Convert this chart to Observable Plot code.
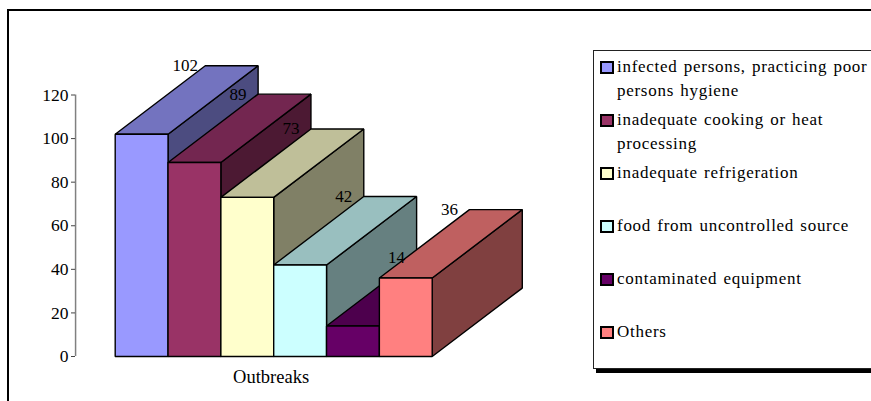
<!DOCTYPE html>
<html>
<head>
<meta charset="utf-8">
<script src="https://cdn.jsdelivr.net/npm/d3@7"></script>
<script src="https://cdn.jsdelivr.net/npm/@observablehq/plot@0.6"></script>
<style>
  html, body { margin: 0; padding: 0; background: #fff; }
  #page { position: relative; width: 871px; height: 401px; overflow: hidden; font-family: "Liberation Serif", serif; color: #000; }
  #page svg { position: absolute; left: 0; top: 0; background: transparent; }
  #frame { position: absolute; left: 7px; top: 9px; width: 900px; height: 500px; border: 2px solid #000; box-sizing: border-box; }
  #legend { position: absolute; left: 593px; top: 50px; width: 400px; height: 319px; box-sizing: border-box; border: 1px solid #222; background: #fff; box-shadow: 3px 4px 0 #000; }
  .item { position: absolute; left: 23px; font-size: 17px; line-height: 24px; white-space: nowrap; letter-spacing: 0.72px; word-spacing: 1.3px; }
  .swatch { position: absolute; left: 6.5px; width: 12px; height: 11px; box-sizing: border-box; border: 1px solid #000; outline: 0.5px solid #000; }
</style>
</head>
<body>
<div id="page">
  <div id="frame"></div>
  <div id="legend"></div>
</div>
<script>
// Food-borne outbreaks by contributing factor.
const categories = [
  "infected persons, practicing poor persons hygiene",
  "inadequate cooking or heat processing",
  "inadequate refrigeration",
  "food from uncontrolled source",
  "contaminated equipment",
  "Others"
];
const outbreaks = [102, 89, 73, 42, 14, 36];
const frontColors = ["#9999ff", "#993366", "#ffffcc", "#ccffff", "#660066", "#ff8080"];
const topColors = ["#7373bf", "#732650", "#bfbf99", "#99bfbf", "#4d004d", "#bf6060"];
const sideColors = ["#4c4c80", "#4c1933", "#808066", "#668080", "#330033", "#804040"];
const yTicks = [0, 20, 40, 60, 80, 100, 120];
const seriesName = "Outbreaks";
const legendLines = [
  ["infected persons, practicing poor", "persons hygiene"],
  ["inadequate cooking or heat", "processing"],
  ["inadequate refrigeration"],
  ["food from uncontrolled source"],
  ["contaminated equipment"],
  ["Others"]
];
const legendRowCenters = [67, 120, 173, 226, 279, 332];

// Oblique projection: the box depth shifts points right (in bar widths) and up (in value units).
const depthX = 1.705;
const depthY = 31.4;

const faces = [];
outbreaks.forEach((v, i) => {
  const add = (name, fill, pts) => pts.forEach(([x, y]) => faces.push({face: `${i}-${name}`, fill, x, y}));
  add("side", sideColors[i], [[i + 1, 0], [i + 1 + depthX, depthY], [i + 1 + depthX, v + depthY], [i + 1, v]]);
  add("top", topColors[i], [[i, v], [i + depthX, v + depthY], [i + 1 + depthX, v + depthY], [i + 1, v]]);
  add("front", frontColors[i], [[i, 0], [i, v], [i + 1, v], [i + 1, 0]]);
});

const labels = outbreaks.map((v, i) => ({v, x: i + depthX, y: v + depthY}));

const chart = Plot.plot({
  width: 871,
  height: 401,
  marginLeft: 75,
  marginTop: 0,
  marginBottom: 0,
  marginRight: 0,
  style: {fontFamily: "'Liberation Serif', serif", fontSize: "16px", color: "#000", background: "transparent"},
  x: {domain: [0, 6], range: [114.7, 431.7], axis: null},
  y: {domain: [0, 120], range: [356, 94.5], axis: null},
  color: {type: "identity"},
  marks: [
    Plot.ruleX([-0.75], {y1: 0, y2: 120, stroke: "#808080", strokeWidth: 1.5}),
    Plot.axisY({ticks: yTicks, anchor: "left", label: null, tickSize: 4, tickPadding: 3, fontSize: 17.5, stroke: "#444"}),
    Plot.line(faces, {
      x: "x", y: "y", z: "face", fill: "fill",
      stroke: "#000", strokeWidth: 1.4, curve: "linear-closed", strokeLinejoin: "miter"
    }),
    Plot.text(labels, {x: "x", y: "y", text: "v", dx: -20, fontSize: 17, fill: "#000", stroke: null}),
    Plot.text([seriesName], {x: () => 2.95, y: () => 0, text: d => d, dy: 21, fontSize: 18.5, fill: "#000"})
  ]
});
document.getElementById("page").insertBefore(chart, document.getElementById("legend"));

// Legend panel: one swatch per category, label wrapped over up to two lines.
const legend = document.getElementById("legend");
const legendTop = 51;
categories.forEach((name, i) => {
  const center = legendRowCenters[i] - legendTop;
  const item = document.createElement("div");
  item.className = "item";
  item.style.top = center - 12 + "px";
  item.innerHTML = legendLines[i].join("<br>");
  legend.appendChild(item);
  const swatch = document.createElement("div");
  swatch.className = "swatch";
  swatch.style.top = center - 5.5 + "px";
  swatch.style.background = frontColors[i];
  legend.appendChild(swatch);
});
</script>
</body>
</html>
